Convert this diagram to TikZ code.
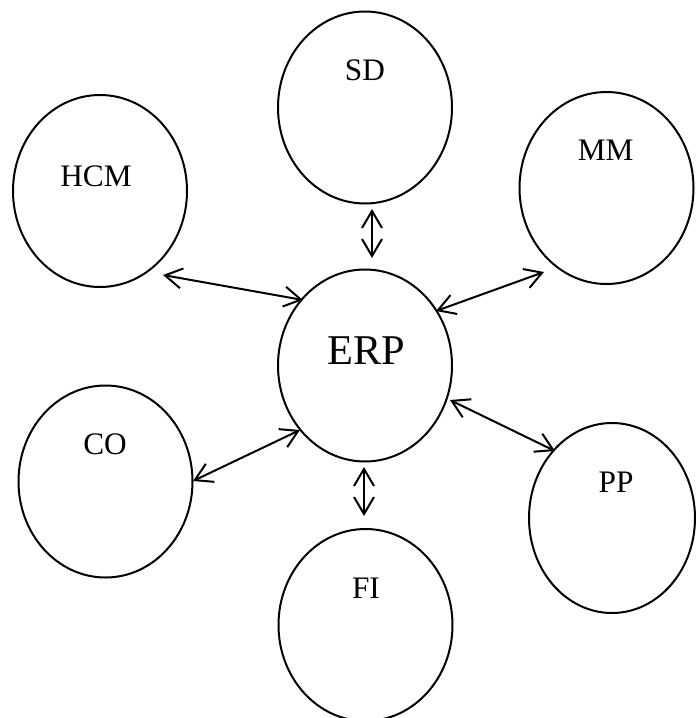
\documentclass[tikz,border=0pt]{standalone}
\usepackage{fontspec}
\setmainfont{Liberation Serif}
\usetikzlibrary{shapes.geometric,arrows.meta}
\begin{document}
\begin{tikzpicture}[x=1pt,y=-1pt,
  module/.style={draw,ellipse,line width=2pt,minimum width=174pt,minimum height=192pt,inner sep=0pt},
  lbl/.style={anchor=base,font=\fontsize{31.3}{36}\selectfont,inner sep=0pt},
  biglbl/.style={anchor=base,font=\fontsize{42.4}{48}\selectfont,inner sep=0pt},
  link/.style={line width=2pt,{Straight Barb[length=17pt,width=20pt]}-{Straight Barb[length=17pt,width=20pt]}}]
\useasboundingbox (0,0) rectangle (696,718);
\node[module] (SD)  at (365,107.5) {};
\node[module] (HCM) at (100,191) {};
\node[module] (MM)  at (606.5,188) {};
\node[module] (CO)  at (105.5,481.5) {};
\node[module,minimum width=166pt,minimum height=190pt] (PP) at (612,518) {};
\node[module] (FI)  at (365.5,625) {};
\node[module] (ERP) at (365,365.5) {};
\node[lbl] (tSD)  at (365,80) {SD};
\node[lbl] (tHCM) at (96,186.7) {HCM};
\node[lbl] (tMM)  at (605.7,160.7) {MM};
\node[lbl] (tCO)  at (105,454) {CO};
\node[lbl] (tPP)  at (616,492.7) {PP};
\node[lbl] (tFI)  at (366,598.3) {FI};
\node[biglbl] (tERP) at (366,364) {ERP};
\coordinate (sd1) at (372,209);  \coordinate (sd2) at (372,258);
\coordinate (hc1) at (163,275);  \coordinate (hc2) at (303,300);
\coordinate (mm1) at (544,272);  \coordinate (mm2) at (436,311);
\coordinate (co1) at (193,481);  \coordinate (co2) at (300,430);
\coordinate (pp1) at (450,400);  \coordinate (pp2) at (555,451);
\coordinate (fi1) at (364,467);  \coordinate (fi2) at (364,516);
\draw[link] (sd1) -- (sd2);
\draw[link] (hc1) -- (hc2);
\draw[link] (mm1) -- (mm2);
\draw[link] (co1) -- (co2);
\draw[link] (pp1) -- (pp2);
\draw[link] (fi1) -- (fi2);
\end{tikzpicture}
\end{document}
